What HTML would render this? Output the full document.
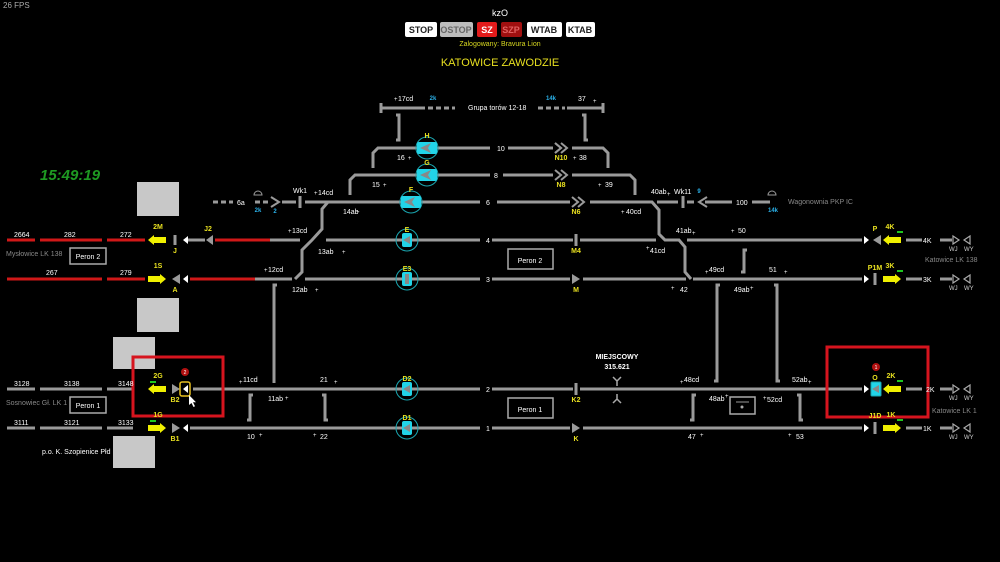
<!DOCTYPE html>
<html><head><meta charset="utf-8"><style>
html,body{margin:0;padding:0;background:#000;width:1000px;height:562px;overflow:hidden}
svg{display:block}
text{font-family:"Liberation Sans",sans-serif}
</style></head><body>
<svg width="1000" height="562" viewBox="0 0 1000 562" xmlns="http://www.w3.org/2000/svg">
<rect width="1000" height="562" fill="#000"/>
<text x="3" y="8" font-size="8" fill="#aaa">26 FPS</text>
<text x="40" y="180" font-size="15" font-weight="bold" font-style="italic" fill="#1e9a22">15:49:19</text>

<!-- top header -->
<text x="500" y="16" font-size="9" fill="#fff" text-anchor="middle">kzO</text>
<g font-size="9" font-weight="bold" text-anchor="middle">
<rect x="405" y="22" width="32" height="15" rx="2" fill="#fff"/><text x="421" y="33" fill="#222">STOP</text>
<rect x="440" y="22" width="33" height="15" rx="2" fill="#bdbdbd"/><text x="456" y="33" fill="#666">OSTOP</text>
<rect x="477" y="22" width="20" height="15" rx="2" fill="#e21b1b"/><text x="487" y="33" fill="#fff">SZ</text>
<rect x="501" y="22" width="21" height="15" rx="2" fill="#a01010"/><text x="511" y="33" fill="#e06060">SZP</text>
<rect x="527" y="22" width="35" height="15" rx="2" fill="#fff"/><text x="544" y="33" fill="#222">WTAB</text>
<rect x="566" y="22" width="29" height="15" rx="2" fill="#fff"/><text x="580" y="33" fill="#222">KTAB</text>
</g>
<text x="500" y="46" font-size="7" fill="#d8d820" text-anchor="middle">Zalogowany: Bravura Lion</text>
<text x="500" y="66" font-size="11" fill="#e8e020" text-anchor="middle">KATOWICE ZAWODZIE</text>

<!-- grey boxes -->
<g fill="#c8c8c8">
<rect x="137" y="182" width="42" height="34"/>
<rect x="137" y="298" width="42" height="34"/>
<rect x="113" y="337" width="42" height="32"/>
<rect x="113" y="436" width="42" height="32"/>
</g>

<!-- red line segments -->
<g stroke="#d01818" stroke-width="3">
<line x1="7" y1="240" x2="35" y2="240"/><line x1="40" y1="240" x2="102" y2="240"/><line x1="107" y1="240" x2="145" y2="240"/>
<line x1="215" y1="240" x2="270" y2="240"/>
<line x1="7" y1="279" x2="102" y2="279"/><line x1="107" y1="279" x2="145" y2="279"/>
<line x1="190" y1="279" x2="255" y2="279"/>
</g>

<!-- gray tracks -->
<g stroke="#9a9a9a" stroke-width="3" fill="none">
<!-- top group -->
<polyline points="381,103 381,108 425,108"/><line x1="381" y1="103" x2="381" y2="113"/>
<line x1="428" y1="108" x2="455" y2="108" stroke-dasharray="5,3"/>
<line x1="538" y1="108" x2="565" y2="108" stroke-dasharray="5,3"/>
<line x1="567" y1="108" x2="603" y2="108"/><line x1="603" y1="103" x2="603" y2="113"/>
<polyline points="396,115 399,115 399,140 396,140"/>
<polyline points="582,115 585,115 585,140 588,140"/>
<!-- track 10 -->
<polyline points="373,168 373,153 378,148 490,148"/>
<line x1="508" y1="148" x2="553" y2="148"/>
<polyline points="572,148 603,148 608,153 608,168"/>
<!-- track 8 -->
<polyline points="350,195 350,180 355,175 490,175"/>
<line x1="503" y1="175" x2="553" y2="175"/>
<polyline points="572,175 630,175 635,180 635,195"/>
<!-- track 6 -->
<line x1="213" y1="202" x2="233" y2="202" stroke-dasharray="5,3"/>
<line x1="255" y1="202" x2="270" y2="202" stroke-dasharray="5,3"/>
<line x1="282" y1="202" x2="296" y2="202"/>
<line x1="305" y1="202" x2="480" y2="202"/>
<line x1="497" y1="202" x2="570" y2="202"/>
<polyline points="590,202 652,202 659,210 659,234 665,240 679,240 685,247 685,272 691,279"/>
<line x1="657" y1="202" x2="678" y2="202"/>
<line x1="687" y1="202" x2="694" y2="202"/>
<line x1="705" y1="202" x2="732" y2="202"/>
<line x1="752" y1="202" x2="770" y2="202"/>
<!-- left crossover -->
<polyline points="328,202 322,209 322,229 312,240 302,250 302,272 295,279"/>
<!-- track 4 -->
<line x1="188" y1="240" x2="205" y2="240"/>
<line x1="270" y1="240" x2="300" y2="240"/>
<line x1="326" y1="240" x2="480" y2="240"/>
<line x1="492" y1="240" x2="573" y2="240"/>
<line x1="580" y1="240" x2="656" y2="240"/>
<line x1="687" y1="240" x2="862" y2="240"/>
<line x1="906" y1="240" x2="922" y2="240"/><line x1="940" y1="240" x2="952" y2="240"/>
<!-- track 3 -->
<line x1="255" y1="279" x2="292" y2="279"/>
<line x1="305" y1="279" x2="480" y2="279"/>
<line x1="492" y1="279" x2="570" y2="279"/>
<line x1="583" y1="279" x2="686" y2="279"/>
<line x1="693" y1="279" x2="862" y2="279"/>
<line x1="906" y1="279" x2="922" y2="279"/><line x1="940" y1="279" x2="952" y2="279"/>
<!-- brackets -->
<polyline points="747,250 744,250 744,272 741,272"/>
<polyline points="277,285 274,285 274,383"/>
<polyline points="720,285 717,285 717,381 714,381"/>
<polyline points="774,285 777,285 777,381 780,381"/>
<polyline points="253,395 250,395 250,420 247,420"/>
<polyline points="322,395 325,395 325,420 328,420"/>
<polyline points="696,395 693,395 693,420 690,420"/>
<polyline points="797,395 800,395 800,420 803,420"/>
<!-- track 2 -->
<line x1="7" y1="389" x2="35" y2="389"/><line x1="40" y1="389" x2="102" y2="389"/><line x1="107" y1="389" x2="133" y2="389"/>
<line x1="193" y1="389" x2="480" y2="389"/>
<line x1="492" y1="389" x2="573" y2="389"/>
<line x1="580" y1="389" x2="862" y2="389"/>
<line x1="906" y1="389" x2="922" y2="389"/><line x1="940" y1="389" x2="952" y2="389"/>
<!-- track 1 -->
<line x1="7" y1="428" x2="35" y2="428"/><line x1="40" y1="428" x2="102" y2="428"/><line x1="107" y1="428" x2="133" y2="428"/>
<line x1="190" y1="428" x2="480" y2="428"/>
<line x1="492" y1="428" x2="570" y2="428"/>
<line x1="583" y1="428" x2="862" y2="428"/>
<line x1="906" y1="428" x2="922" y2="428"/><line x1="940" y1="428" x2="952" y2="428"/>
<!-- bars -->
<line x1="175" y1="235" x2="175" y2="245"/>
<line x1="300" y1="196" x2="300" y2="208"/>
<line x1="683" y1="196" x2="683" y2="208"/>
<line x1="576" y1="234" x2="576" y2="246"/>
<line x1="576" y1="383" x2="576" y2="395"/>
<line x1="875" y1="273" x2="875" y2="285"/>
<line x1="875" y1="422" x2="875" y2="434"/>
<!-- chevrons -->
<polyline points="271,197 279,202 271,207" stroke-width="2"/>
<polyline points="707,197 699,202 707,207" stroke-width="2"/>
<polyline points="555,143 561,148 555,153 M" stroke-width="2"/>
<polyline points="561,143 567,148 561,153" stroke-width="2"/>
<polyline points="555,143 561,148 555,153" stroke-width="2"/>
<polyline points="555,170 561,175 555,180" stroke-width="2"/><polyline points="561,170 567,175 561,180" stroke-width="2"/>
<polyline points="572,197 578,202 572,207" stroke-width="2"/><polyline points="578,197 584,202 578,207" stroke-width="2"/>
<!-- domes -->
<path d="M254,195 a4,4 0 0 1 8,0 z M768,195 a4,4 0 0 1 8,0 z" stroke-width="1"/>
<!-- peron boxes -->
<rect x="70" y="248" width="36" height="16" stroke="#aaa" stroke-width="1.5"/>
<rect x="70" y="397" width="36" height="16" stroke="#aaa" stroke-width="1.5"/>
<rect x="508" y="249" width="45" height="20" stroke="#aaa" stroke-width="1.5"/>
<rect x="508" y="398" width="45" height="20" stroke="#aaa" stroke-width="1.5"/>
<rect x="730" y="397" width="25" height="17" stroke="#aaa" stroke-width="1.5"/>
<line x1="736" y1="402" x2="749" y2="402" stroke-width="1"/>
<!-- Y antenna -->
<path d="M613,377 l4,4 l4,-4 M617,381 v5 M617,394 v5 M613,403 l4,-4 l4,4" stroke="#aaa" stroke-width="1.5"/>
</g>
<circle cx="742" cy="407" r="1.5" fill="#aaa"/>
<text x="530" y="263" font-size="7" fill="#fff" text-anchor="middle">Peron 2</text>
<text x="530" y="412" font-size="7" fill="#fff" text-anchor="middle">Peron 1</text>
<text x="88" y="259" font-size="7" fill="#fff" text-anchor="middle">Peron 2</text>
<text x="88" y="408" font-size="7" fill="#fff" text-anchor="middle">Peron 1</text>

<!-- triangles gray -->
<g fill="#9a9a9a">
<polygon points="206,240 213,235 213,245"/>
<polygon points="172,279 180,274 180,284"/>
<polygon points="572,274 580,279 572,284"/>
<polygon points="172,389 180,384 180,394" transform="rotate(180 176 389)"/>
<polygon points="172,423 180,428 172,433"/>
<polygon points="572,423 580,428 572,433"/>
<polygon points="873,240 881,235 881,245"/>
</g>
<!-- white triangles -->
<g fill="#fff">
<polygon points="183,240 188,236 188,244"/>
<polygon points="183,279 188,275 188,283"/>
<polygon points="183,428 188,424 188,432"/>
<polygon points="183,389 188,385 188,393"/>
<polygon points="864,236 869,240 864,244"/>
<polygon points="864,275 869,279 864,283"/>
<polygon points="864,385 869,389 864,393"/>
<polygon points="864,424 869,428 864,432"/>
</g>
<rect x="180" y="382" width="10" height="14" rx="2" fill="none" stroke="#e8c020" stroke-width="1.5"/>
<!-- WJ / WY -->
<g fill="none" stroke="#aaa" stroke-width="1.2">
<polygon points="953,236 959,240 953,244"/><polygon points="970,236 964,240 970,244"/>
<polygon points="953,275 959,279 953,283"/><polygon points="970,275 964,279 970,283"/>
<polygon points="953,385 959,389 953,393"/><polygon points="970,385 964,389 970,393"/>
<polygon points="953,424 959,428 953,432"/><polygon points="970,424 964,428 970,432"/>
</g>

<!-- yellow arrows -->
<g fill="#f0f000">
<polygon points="148,240 154,235 154,237 166,237 166,243 154,243 154,245"/>
<polygon points="166,279 160,274 160,276 148,276 148,282 160,282 160,284"/>
<polygon points="148,389 154,384 154,386 166,386 166,392 154,392 154,394"/>
<polygon points="166,428 160,423 160,425 148,425 148,431 160,431 160,433"/>
<polygon points="883,240 889,235 889,237 901,237 901,243 889,243 889,245"/>
<polygon points="901,279 895,274 895,276 883,276 883,282 895,282 895,284"/>
<polygon points="883,389 889,384 889,386 901,386 901,392 889,392 889,394"/>
<polygon points="901,428 895,423 895,425 883,425 883,431 895,431 895,433"/>
</g>
<g fill="#1ec81e">
<rect x="150" y="381" width="6" height="2"/><rect x="150" y="420" width="6" height="2"/>
<rect x="897" y="231" width="6" height="2"/><rect x="897" y="270" width="6" height="2"/>
<rect x="897" y="380" width="6" height="2"/><rect x="897" y="419" width="6" height="2"/>
</g>

<!-- cyan circles -->
<g>
<g stroke="#1aa6b0" stroke-width="1" fill="none">
<circle cx="427" cy="148" r="11"/><circle cx="427" cy="175" r="11"/><circle cx="411" cy="202" r="11"/>
<circle cx="407" cy="240" r="11"/><circle cx="407" cy="279" r="11"/><circle cx="407" cy="389" r="11"/><circle cx="407" cy="428" r="11"/>
</g>
<g fill="#22d4e8">
<rect x="417" y="142" width="20" height="12" rx="2"/><rect x="417" y="169" width="20" height="12" rx="2"/>
<rect x="401" y="196" width="20" height="12" rx="2"/>
<rect x="402" y="233" width="10" height="14" rx="2"/><rect x="402" y="272" width="10" height="14" rx="2"/>
<rect x="402" y="382" width="10" height="14" rx="2"/><rect x="402" y="421" width="10" height="14" rx="2"/>
<rect x="871" y="382" width="10" height="14" rx="1" stroke="#1aa6b0" stroke-width="1"/>
</g>
<g fill="#888">
<polygon points="420,148 431,143 428,148 431,153"/><polygon points="420,175 431,170 428,175 431,180"/>
<polygon points="404,202 415,197 412,202 415,207"/>
<polygon points="403,240 410,236 410,244"/><rect x="405" y="274" width="4" height="10"/>
<polygon points="403,389 410,385 410,393"/><polygon points="403,428 410,424 410,432"/>
<polygon points="872,389 879,385 879,393"/>
</g>
</g>

<!-- red boxes -->
<g fill="none" stroke="#d6141e" stroke-width="3">
<rect x="133" y="357" width="90" height="59"/>
<rect x="827" y="347" width="101" height="70"/>
</g>
<circle cx="185" cy="372" r="4" fill="#b01010"/><circle cx="876" cy="367" r="4" fill="#b01010"/>
<text x="185" y="374" font-size="5" fill="#fff" text-anchor="middle">2</text>
<text x="876" y="369" font-size="5" fill="#fff" text-anchor="middle">1</text>
<path d="M189,395 l0,10 l2.5,-2 l2,4 l1.5,-.7 l-2,-4 l3,0 z" fill="#fff"/>

<!-- gray white labels -->
<g font-size="7" fill="#fff">
<text x="14" y="237">2664</text><text x="64" y="237">282</text><text x="120" y="237">272</text>
<text x="46" y="275">267</text><text x="120" y="275">279</text>
<text x="14" y="386">3128</text><text x="64" y="386">3138</text><text x="118" y="386">3148</text>
<text x="14" y="425">3111</text><text x="64" y="425">3121</text><text x="118" y="425">3133</text>
<text x="42" y="454">p.o.  K. Szopienice Płd</text>
<text x="237" y="205">6a</text>
<text x="293" y="193">Wk1</text><text x="318" y="195">14cd</text>
<text x="292" y="233">13cd</text><text x="318" y="254">13ab</text>
<text x="268" y="272">12cd</text><text x="292" y="292">12ab</text>
<text x="343" y="214">14ab</text>
<text x="398" y="101">17cd</text><text x="578" y="101">37</text>
<text x="468" y="110">Grupa torów 12-18</text>
<text x="497" y="151">10</text><text x="494" y="178">8</text><text x="486" y="205">6</text>
<text x="486" y="243">4</text><text x="486" y="282">3</text><text x="486" y="392">2</text><text x="486" y="431">1</text>
<text x="397" y="160">16</text><text x="372" y="187">15</text>
<text x="579" y="160">38</text><text x="605" y="187">39</text>
<text x="651" y="194">40ab</text><text x="626" y="214">40cd</text>
<text x="674" y="194">Wk11</text><text x="736" y="205">100</text>
<text x="676" y="233">41ab</text><text x="650" y="253">41cd</text>
<text x="738" y="233">50</text><text x="709" y="272">49cd</text>
<text x="769" y="272">51</text><text x="680" y="292">42</text><text x="734" y="292">49ab</text>
<text x="243" y="382">11cd</text><text x="320" y="382">21</text>
<text x="268" y="401">11ab</text><text x="247" y="439">10</text><text x="320" y="439">22</text>
<text x="684" y="382">48cd</text><text x="792" y="382">52ab</text>
<text x="709" y="401">48ab</text><text x="767" y="402">52cd</text>
<text x="688" y="439">47</text><text x="796" y="439">53</text>
<text x="923" y="243">4K</text><text x="923" y="282">3K</text><text x="926" y="392">2K</text><text x="923" y="431">1K</text>
</g>
<g font-size="7" fill="#fff" font-weight="bold" text-anchor="middle">
<text x="617" y="359">MIEJSCOWY</text><text x="617" y="369">315.621</text>
</g>
<g font-size="7" fill="#888">
<text x="6" y="256">Mysłowice LK 138</text>
<text x="6" y="405">Sosnowiec Gł. LK 1</text>
<text x="788" y="204">Wagonownia PKP IC</text>
<text x="925" y="262">Katowice LK 138</text>
<text x="932" y="413">Katowice LK 1</text>
</g>
<g font-size="6" fill="#ccc">
<text x="949" y="251">WJ</text><text x="964" y="251">WY</text>
<text x="949" y="290">WJ</text><text x="964" y="290">WY</text>
<text x="949" y="400">WJ</text><text x="964" y="400">WY</text>
<text x="949" y="439">WJ</text><text x="964" y="439">WY</text>
</g>
<!-- plus signs -->
<g font-size="6" fill="#fff">
<text x="288" y="233">+</text><text x="314" y="195">+</text><text x="342" y="254">+</text><text x="264" y="272">+</text><text x="315" y="292">+</text>
<text x="356" y="214">+</text><text x="394" y="101">+</text><text x="593" y="103">+</text><text x="408" y="160">+</text><text x="383" y="187">+</text>
<text x="573" y="160">+</text><text x="598" y="187">+</text><text x="667" y="196">+</text><text x="621" y="214">+</text>
<text x="692" y="235">+</text><text x="731" y="233">+</text><text x="646" y="250">+</text><text x="705" y="274">+</text><text x="784" y="274">+</text>
<text x="671" y="290">+</text><text x="750" y="290">+</text>
<text x="239" y="384">+</text><text x="334" y="384">+</text><text x="285" y="400">+</text><text x="259" y="437">+</text><text x="313" y="437">+</text>
<text x="680" y="384">+</text><text x="808" y="384">+</text><text x="725" y="398">+</text><text x="763" y="400">+</text><text x="700" y="437">+</text><text x="788" y="437">+</text>
</g>
<!-- yellow labels -->
<g font-size="7" font-weight="bold" fill="#e8e020" text-anchor="middle">
<text x="158" y="229">2M</text><text x="175" y="253">J</text><text x="208" y="231">J2</text>
<text x="158" y="268">1S</text><text x="175" y="292">A</text>
<text x="158" y="378">2G</text><text x="175" y="402">B2</text>
<text x="158" y="417">1G</text><text x="175" y="441">B1</text>
<text x="427" y="138">H</text><text x="427" y="165">G</text><text x="411" y="192">F</text>
<text x="407" y="232">E</text><text x="407" y="271">E3</text><text x="407" y="381">D2</text><text x="407" y="420">D1</text>
<text x="561" y="160">N10</text><text x="561" y="187">N8</text><text x="576" y="214">N6</text>
<text x="576" y="253">M4</text><text x="576" y="292">M</text><text x="576" y="402">K2</text><text x="576" y="441">K</text>
<text x="875" y="231">P</text><text x="890" y="229">4K</text>
<text x="875" y="270">P1M</text><text x="890" y="268">3K</text>
<text x="875" y="380">O</text><text x="891" y="378">2K</text>
<text x="875" y="418">J1D</text><text x="891" y="417">1K</text>
</g>
<g font-size="6" font-weight="bold" fill="#2ab0e8" text-anchor="middle">
<text x="258" y="212">2k</text><text x="275" y="213">2</text>
<text x="433" y="100">2k</text><text x="551" y="100">14k</text>
<text x="699" y="193">9</text><text x="773" y="212">14k</text>
</g>
</svg>
</body></html>
